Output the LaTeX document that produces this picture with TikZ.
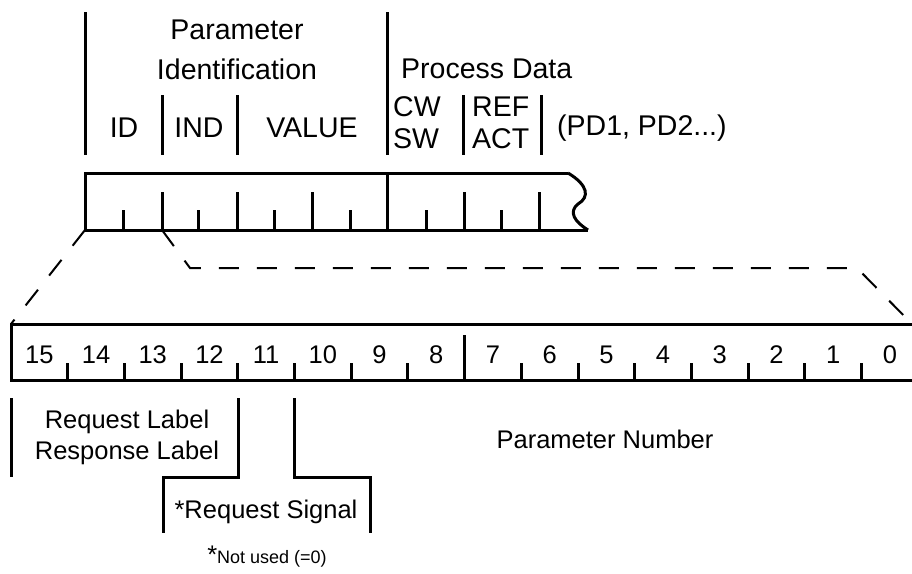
\documentclass[tikz,border=0pt]{standalone}
\usepackage{fontspec}
\setmainfont{Liberation Sans}
\usetikzlibrary{positioning}
\tikzset{
  frame/.style = {line width=3pt},
  zoomline/.style = {line width=2pt, dash pattern=on 20pt off 18pt},
  lbl/.style = {inner sep=0pt, anchor=base, font=\fontsize{25.5}{31}\selectfont},
  head/.style = {lbl, font=\fontsize{28.5}{32}\selectfont}
}

\begin{document}
\begin{tikzpicture}[x=1pt, y=-1pt]

    \useasboundingbox (0,0) rectangle (912,573);

    %% Telegram fields

    % Separators
    \draw[frame] (85,12) -- (85,155);
    \draw[frame] (387,12) -- (387,155);
    \foreach \x in {162,237,463,541}
        \draw[frame] (\x,95) -- (\x,155);

    % Field names
    \node[head] (par) at (237,39) {Parameter};
    \node[head] (ident) at (237,79) {Identification};
    \node[head] (id) at (124,137) {ID};
    \node[head] (ind) at (199,137) {IND};
    \node[head] (value) at (312,137) {VALUE};
    \node[head, anchor=base west] (pd) at (401,78) {Process Data};
    \node[head, anchor=base west] (cw) at (393,116) {CW};
    \node[head, anchor=base west] (sw) at (393,148) {SW};
    \node[head, anchor=base west] (ref) at (472,116) {REF};
    \node[head, anchor=base west] (act) at (472,148) {ACT};
    \node[head, anchor=base west] (pdn) at (557,135) {(PD1, PD2...)};

    % Telegram strip
    \draw[frame] (568,173) -- (85,173) -- (85,230) -- (588,230);
    \draw[frame] (568,173) .. controls (588,185) and (590,197) .. (578,204)
        .. controls (568,212) and (575,222) .. (588,230);
    \draw[frame] (387,173) -- (387,230);
    \foreach \x in {123,198,274,350,426,501}
        \draw[frame] (\x,230) -- (\x,210);
    \foreach \x in {162,237,312,464,539}
        \draw[frame] (\x,230) -- (\x,192);

    % Zoom lines
    \draw[zoomline] (85,230) -- (11,324);
    \draw[zoomline] (162,230) -- (190,268) -- (857,268) -- (912,324);

    %% Parameter identification word

    % Bit row
    \draw[frame] (912,324) -- (11,324) -- (11,380) -- (912,380);
    \foreach \i in {1,...,15}
        \draw[frame] ({11+56.7*\i},380) -- ({11+56.7*\i},363);
    \draw[frame] ({11+56.7*8},335) -- ({11+56.7*8},380);
    \foreach \b in {0,...,15}
        \node[lbl] (bit\b) at ({11+56.7*(15.5-\b)},363) {\b};

    % Bit groups
    \draw[frame] (11,398) -- (11,477);
    \draw[frame] (238,398) -- (238,477) -- (163,477) -- (163,533);
    \draw[frame] (294,398) -- (294,477) -- (370,477) -- (370,533);
    \node[lbl] (req) at (127,428) {Request Label};
    \node[lbl] (resp) at (127,459) {Response Label};
    \node[lbl] (signal) at (266,518) {*Request Signal};
    \node[lbl] (number) at (605,448) {Parameter Number};
    \node[lbl] (note) at (267,563) {*\fontsize{18}{18}\selectfont Not used (=0)};

\end{tikzpicture}
\end{document}
